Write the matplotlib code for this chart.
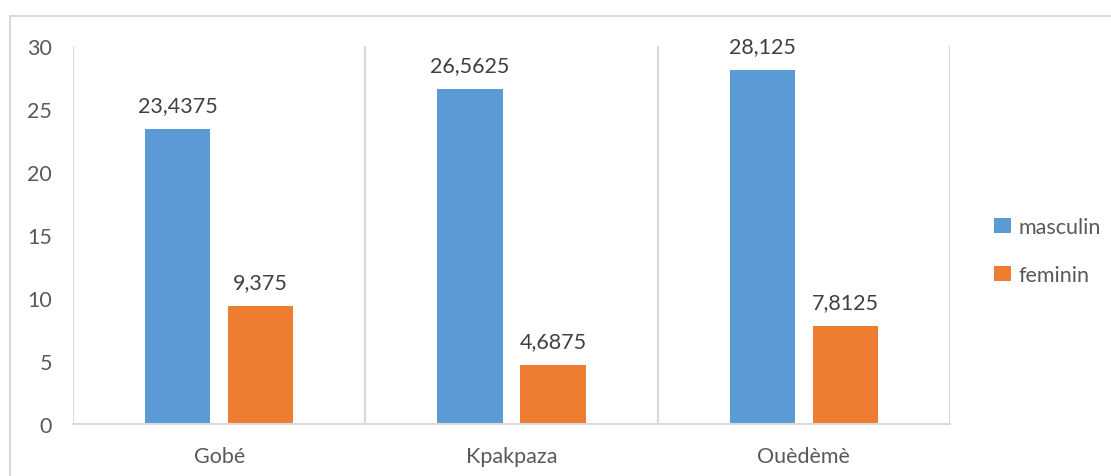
import matplotlib.pyplot as plt
from matplotlib.patches import Rectangle

categories = ['Gobé', 'Kpakpaza', 'Ouèdèmè']
masculin = [23.4375, 26.5625, 28.125]
feminin = [9.375, 4.6875, 7.8125]
series_names = ['masculin', 'feminin']

plt.rcParams['font.family'] = ['Lato', 'DejaVu Sans']
txt = '#595959'
fs = 15.5

fig = plt.figure(figsize=(11.11, 4.77), dpi=100)
ax = fig.add_axes([73/1111, 1-425/477, (950-73)/1111, (425-47)/477])

x = range(len(categories))
off = 0.142
w = 0.223
b1 = ax.bar([i - off for i in x], masculin, w, color='#5B9BD5', label=series_names[0])
b2 = ax.bar([i + off for i in x], feminin, w, color='#ED7D31', label=series_names[1])

for bars, vals in ((b1, masculin), (b2, feminin)):
    for r, v in zip(bars, vals):
        lab = f'{v:g}'.replace('.', ',')
        ax.annotate(lab, (r.get_x() + r.get_width()/2, v), xytext=(0, 10),
                    textcoords='offset points', ha='center', va='bottom',
                    fontsize=fs, color='#404040')

ax.set_xlim(-0.5, 2.5)
ax.set_ylim(0, 30)
ax.set_yticks(range(0, 31, 5))
ax.set_xticks(list(x))
ax.set_xticklabels(categories)
ax.set_xticks([-0.5, 0.5, 1.5, 2.5], minor=True)
ax.grid(True, axis='x', which='minor', color='#D9D9D9', linewidth=1.5)
ax.tick_params(axis='both', which='both', length=0, labelsize=fs, colors=txt)
ax.tick_params(axis='y', pad=15)
ax.tick_params(axis='x', pad=16)
for s in ['top', 'right', 'left']:
    ax.spines[s].set_visible(False)
ax.spines['bottom'].set_color('#D9D9D9')
ax.spines['bottom'].set_linewidth(1.5)

leg = fig.legend(loc='center left', bbox_to_anchor=(975/1111, 1-252/477), frameon=False,
                 fontsize=fs, handlelength=0.75, handleheight=0.75, handletextpad=0.35,
                 labelspacing=1.3, labelcolor=txt)

fig.patches.append(Rectangle((10/1111, -0.2), 1.2, 1.2 - 17/477,
                             transform=fig.transFigure, fill=False,
                             edgecolor='#D9D9D9', linewidth=1.5))

plt.savefig('out.png', dpi=100)
plt.close()
